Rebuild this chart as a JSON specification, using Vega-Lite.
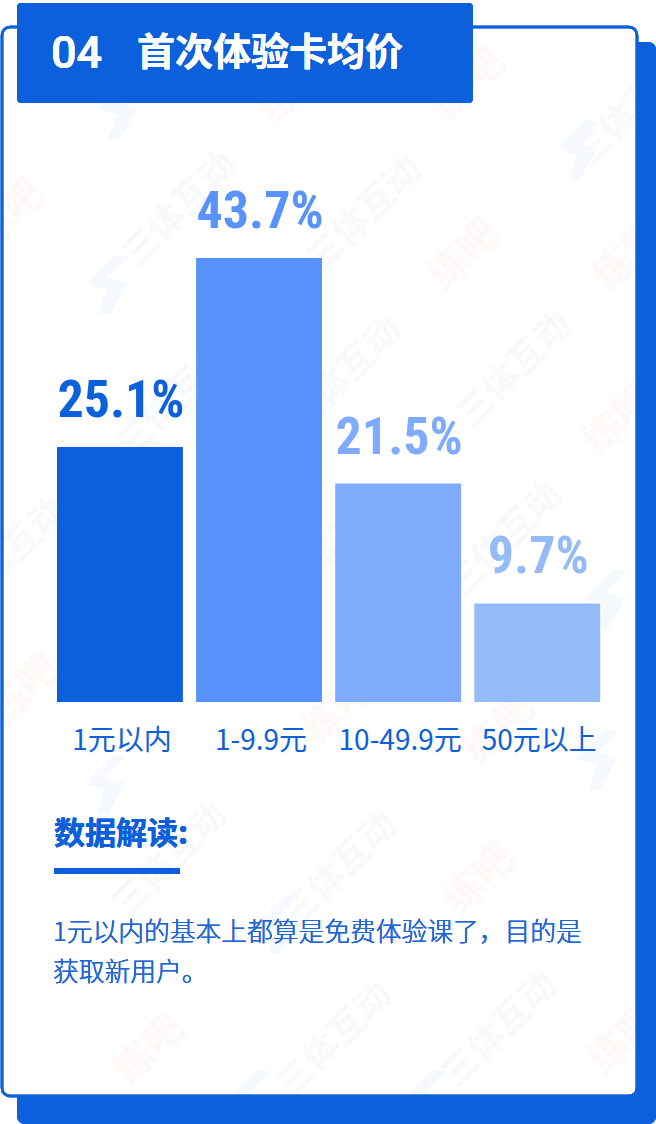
{
  "$schema": "https://vega.github.io/schema/vega-lite/v6.json",
  "autosize": {"type": "none"},
  "width": 656,
  "height": 1124,
  "padding": 0,
  "background": "#ffffff",
  "config": {"view": {"stroke": null}, "text": {"font": "Noto Sans CJK SC"}},
  "datasets": {
    "prices": [
      {"range": "1元以内", "share": 0.251},
      {"range": "1-9.9元", "share": 0.437},
      {"range": "10-49.9元", "share": 0.215},
      {"range": "50元以上", "share": 0.097}
    ],
    "wm_name": [
      {"word": "三体互动", "across": 180, "down": 210},
      {"word": "三体互动", "across": 365, "down": 215},
      {"word": "三体互动", "across": 632, "down": 110},
      {"word": "三体互动", "across": 345, "down": 375},
      {"word": "三体互动", "across": 515, "down": 370},
      {"word": "三体互动", "across": 175, "down": 400},
      {"word": "三体互动", "across": 505, "down": 540},
      {"word": "三体互动", "across": 335, "down": 545},
      {"word": "三体互动", "across": 10, "down": 555},
      {"word": "三体互动", "across": 170, "down": 860},
      {"word": "三体互动", "across": 340, "down": 870},
      {"word": "三体互动", "across": 335, "down": 1040},
      {"word": "三体互动", "across": 500, "down": 1030}
    ],
    "wm_brand": [
      {"word": "练吧", "across": 10, "down": 215},
      {"word": "练吧", "across": 465, "down": 255},
      {"word": "练吧", "across": 630, "down": 255},
      {"word": "练吧", "across": 620, "down": 420},
      {"word": "练吧", "across": 470, "down": 85},
      {"word": "练吧", "across": 295, "down": 90},
      {"word": "练吧", "across": 25, "down": 690},
      {"word": "练吧", "across": 340, "down": 710},
      {"word": "练吧", "across": 500, "down": 730},
      {"word": "练吧", "across": 480, "down": 880},
      {"word": "练吧", "across": 150, "down": 1050},
      {"word": "练吧", "across": 625, "down": 1040}
    ],
    "wm_logo": [
      {"across": 118, "down": 110},
      {"across": 108, "down": 285},
      {"across": 578, "down": 150},
      {"across": 606, "down": 600},
      {"across": 106, "down": 785},
      {"across": 598, "down": 760},
      {"across": 278, "down": 925},
      {"across": 250, "down": 1100},
      {"across": 425, "down": 1100}
    ]
  },
  "data": {"name": "prices"},
  "layer": [
    {
      "data": {"name": "wm_name"},
      "mark": {"type": "text", "angle": 315, "fontSize": 36, "fontWeight": 700, "color": "#f8f9fb"},
      "encoding": {
        "x": {"field": "across", "type": "quantitative", "axis": null, "scale": {"domain": [0, 656], "nice": false, "zero": false}},
        "y": {"field": "down", "type": "quantitative", "axis": null, "scale": {"domain": [1124, 0], "nice": false, "zero": false}},
        "text": {"field": "word"}
      }
    },
    {
      "data": {"name": "wm_brand"},
      "mark": {"type": "text", "angle": 315, "fontSize": 40, "fontWeight": 700, "color": "#fef8f6"},
      "encoding": {
        "x": {"field": "across", "type": "quantitative", "axis": null, "scale": {"domain": [0, 656], "nice": false, "zero": false}},
        "y": {"field": "down", "type": "quantitative", "axis": null, "scale": {"domain": [1124, 0], "nice": false, "zero": false}},
        "text": {"field": "word"}
      }
    },
    {
      "data": {"name": "wm_logo"},
      "mark": {"type": "point", "filled": true, "opacity": 1, "color": "#f5f9fe", "size": 3600, "shape": "M0.25,-1 L-0.7,-0.05 L-0.05,0.15 L-0.3,0.95 L0.05,1 L0.65,-0.05 L-0.05,-0.25 L0.7,-0.95 Z"},
      "encoding": {
        "x": {"field": "across", "type": "quantitative", "axis": null, "scale": {"domain": [0, 656], "nice": false, "zero": false}},
        "y": {"field": "down", "type": "quantitative", "axis": null, "scale": {"domain": [1124, 0], "nice": false, "zero": false}}
      }
    },
    {
      "mark": {"type": "rect", "fill": "#ffffff"},
      "encoding": {
        "x": {"datum": 473, "type": "quantitative", "axis": null, "scale": {"domain": [0, 656], "nice": false, "zero": false}},
        "x2": {"datum": 656},
        "y": {"datum": 0, "type": "quantitative", "axis": null, "scale": {"domain": [1124, 0], "nice": false, "zero": false}},
        "y2": {"datum": 26}
      }
    },
    {
      "mark": {"type": "rect", "fill": "#ffffff"},
      "encoding": {
        "x": {"datum": 637, "type": "quantitative", "axis": null, "scale": {"domain": [0, 656], "nice": false, "zero": false}},
        "x2": {"datum": 656},
        "y": {"datum": 0, "type": "quantitative", "axis": null, "scale": {"domain": [1124, 0], "nice": false, "zero": false}},
        "y2": {"datum": 44}
      }
    },
    {
      "mark": {"type": "rect", "fill": "#ffffff"},
      "encoding": {
        "x": {"datum": 0, "type": "quantitative", "axis": null, "scale": {"domain": [0, 656], "nice": false, "zero": false}},
        "x2": {"datum": 17},
        "y": {"datum": 1097, "type": "quantitative", "axis": null, "scale": {"domain": [1124, 0], "nice": false, "zero": false}},
        "y2": {"datum": 1124}
      }
    },
    {
      "mark": {"type": "rect", "fill": "#0d60dc", "cornerRadiusTopRight": 8, "cornerRadiusBottomRight": 8},
      "encoding": {
        "x": {"datum": 636, "type": "quantitative", "axis": null, "scale": {"domain": [0, 656], "nice": false, "zero": false}},
        "x2": {"datum": 656},
        "y": {"datum": 42, "type": "quantitative", "axis": null, "scale": {"domain": [1124, 0], "nice": false, "zero": false}},
        "y2": {"datum": 1124}
      }
    },
    {
      "mark": {"type": "rect", "fill": "#0d60dc", "cornerRadiusBottomLeft": 8, "cornerRadiusBottomRight": 8},
      "encoding": {
        "x": {"datum": 17, "type": "quantitative", "axis": null, "scale": {"domain": [0, 656], "nice": false, "zero": false}},
        "x2": {"datum": 656},
        "y": {"datum": 1095, "type": "quantitative", "axis": null, "scale": {"domain": [1124, 0], "nice": false, "zero": false}},
        "y2": {"datum": 1124}
      }
    },
    {
      "mark": {"type": "rect", "fill": null, "stroke": "#0d60dc", "strokeWidth": 2.5, "cornerRadius": 8},
      "encoding": {
        "x": {"datum": 2, "type": "quantitative", "axis": null, "scale": {"domain": [0, 656], "nice": false, "zero": false}},
        "x2": {"datum": 637},
        "y": {"datum": 27, "type": "quantitative", "axis": null, "scale": {"domain": [1124, 0], "nice": false, "zero": false}},
        "y2": {"datum": 1096}
      }
    },
    {
      "mark": {"type": "rect", "fill": "#0d60dc", "cornerRadius": 4},
      "encoding": {
        "x": {"datum": 17, "type": "quantitative", "axis": null, "scale": {"domain": [0, 656], "nice": false, "zero": false}},
        "x2": {"datum": 473},
        "y": {"datum": 3, "type": "quantitative", "axis": null, "scale": {"domain": [1124, 0], "nice": false, "zero": false}},
        "y2": {"datum": 103}
      }
    },
    {
      "mark": {"type": "text", "align": "left", "baseline": "middle", "font": "Roboto", "fontSize": 45, "fontWeight": 500, "color": "#ffffff"},
      "encoding": {
        "x": {"datum": 51, "type": "quantitative", "axis": null, "scale": {"domain": [0, 656], "nice": false, "zero": false}},
        "y": {"datum": 54, "type": "quantitative", "axis": null, "scale": {"domain": [1124, 0], "nice": false, "zero": false}},
        "text": {"value": "04"}
      }
    },
    {
      "mark": {"type": "text", "align": "left", "baseline": "middle", "fontSize": 38, "fontWeight": 700, "color": "#ffffff"},
      "encoding": {
        "x": {"datum": 137, "type": "quantitative", "axis": null, "scale": {"domain": [0, 656], "nice": false, "zero": false}},
        "y": {"datum": 54, "type": "quantitative", "axis": null, "scale": {"domain": [1124, 0], "nice": false, "zero": false}},
        "text": {"value": "首次体验卡均价"}
      }
    },
    {
      "mark": {"type": "bar"},
      "encoding": {
        "x": {"field": "range", "type": "nominal", "sort": null, "axis": null, "scale": {"range": [50.4, 606.8], "paddingInner": 0.095, "paddingOuter": 0.0475}},
        "y": {"field": "share", "type": "quantitative", "axis": null, "scale": {"domain": [-0.4154, 0.6909], "nice": false, "zero": false}},
        "color": {"field": "range", "type": "nominal", "sort": null, "legend": null, "scale": {"range": ["#0d60dc", "#5893fb", "#7eabfb", "#94bbf7"]}}
      }
    },
    {
      "mark": {"type": "text", "baseline": "alphabetic", "dy": -30, "dx": 1, "font": "Roboto Condensed, Roboto", "fontSize": 52, "fontWeight": 700},
      "encoding": {
        "x": {"field": "range", "type": "nominal", "sort": null, "axis": null, "scale": {"range": [50.4, 606.8], "paddingInner": 0.095, "paddingOuter": 0.0475}},
        "y": {"field": "share", "type": "quantitative", "axis": null, "scale": {"domain": [-0.4154, 0.6909], "nice": false, "zero": false}},
        "color": {"field": "range", "type": "nominal", "sort": null, "legend": null, "scale": {"range": ["#0d60dc", "#5893fb", "#7eabfb", "#94bbf7"]}},
        "text": {"field": "share", "type": "quantitative", "format": ".1%"}
      }
    },
    {
      "mark": {"type": "text", "baseline": "middle", "dx": 2, "fontSize": 28, "color": "#0d60dc"},
      "encoding": {
        "x": {"field": "range", "type": "nominal", "sort": null, "axis": null, "scale": {"range": [50.4, 606.8], "paddingInner": 0.095, "paddingOuter": 0.0475}},
        "y": {"datum": -0.0394, "type": "quantitative", "axis": null, "scale": {"domain": [-0.4154, 0.6909], "nice": false, "zero": false}},
        "text": {"field": "range"}
      }
    },
    {
      "mark": {"type": "text", "align": "left", "baseline": "middle", "fontSize": 31, "fontWeight": 700, "color": "#0d60dc"},
      "encoding": {
        "x": {"datum": 54, "type": "quantitative", "axis": null, "scale": {"domain": [0, 656], "nice": false, "zero": false}},
        "y": {"datum": 835, "type": "quantitative", "axis": null, "scale": {"domain": [1124, 0], "nice": false, "zero": false}},
        "text": {"value": "数据解读:"}
      }
    },
    {
      "mark": {"type": "rect", "fill": "#0d60dc"},
      "encoding": {
        "x": {"datum": 54, "type": "quantitative", "axis": null, "scale": {"domain": [0, 656], "nice": false, "zero": false}},
        "x2": {"datum": 180},
        "y": {"datum": 868, "type": "quantitative", "axis": null, "scale": {"domain": [1124, 0], "nice": false, "zero": false}},
        "y2": {"datum": 874}
      }
    },
    {
      "mark": {"type": "text", "align": "left", "baseline": "middle", "fontSize": 25.75, "fontWeight": 300, "color": "#1f66d6"},
      "encoding": {
        "x": {"datum": 53, "type": "quantitative", "axis": null, "scale": {"domain": [0, 656], "nice": false, "zero": false}},
        "y": {"datum": 933, "type": "quantitative", "axis": null, "scale": {"domain": [1124, 0], "nice": false, "zero": false}},
        "text": {"value": "1元以内的基本上都算是免费体验课了，目的是"}
      }
    },
    {
      "mark": {"type": "text", "align": "left", "baseline": "middle", "fontSize": 25.75, "fontWeight": 300, "color": "#1f66d6"},
      "encoding": {
        "x": {"datum": 53, "type": "quantitative", "axis": null, "scale": {"domain": [0, 656], "nice": false, "zero": false}},
        "y": {"datum": 973, "type": "quantitative", "axis": null, "scale": {"domain": [1124, 0], "nice": false, "zero": false}},
        "text": {"value": "获取新用户。"}
      }
    }
  ],
  "resolve": {"scale": {"x": "independent", "y": "independent"}}
}
